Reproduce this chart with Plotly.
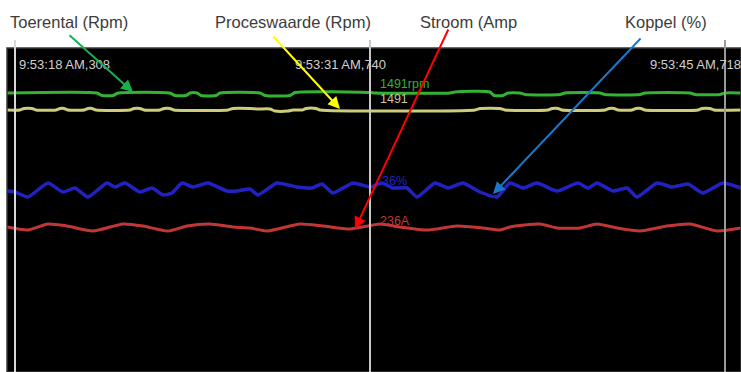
import plotly.graph_objects as go

# ---------------- data (sample index, 1 sample per display column) ----------------
green_x = [0, 90, 95, 106, 111, 163, 168, 179, 183, 190, 194, 209, 213, 253, 258, 283, 288, 363, 368,
           443, 448, 483, 487, 496, 501, 513, 518, 553, 558, 593, 598, 633, 638, 683, 688, 713, 718, 734]
green_rpm = [1491, 1491, 1488.5, 1488.5, 1491, 1491, 1488.5, 1488.5, 1491, 1491, 1488.5, 1488.5, 1491,
             1491, 1488.5, 1488.5, 1491.5, 1491.5, 1491, 1491, 1492, 1492, 1488.5, 1488.5, 1491, 1491,
             1489.5, 1489.5, 1491, 1491, 1489.5, 1489.5, 1491, 1491, 1489.5, 1489.5, 1491, 1491]

yellow_x = [0, 13, 17, 25, 29, 49, 53, 57, 61, 77, 81, 85, 89, 123, 127, 133, 137, 153, 157, 163, 167,
            221, 226, 243, 251, 263, 268, 281, 286, 295, 299, 309, 313, 468, 473, 493, 498, 541, 545,
            551, 555, 598, 602, 607, 611, 625, 629, 634, 638, 691, 695, 703, 707, 734]
yellow_rpm = [1491, 1491, 1492.5, 1492.5, 1491, 1491, 1492.5, 1492.5, 1491, 1491, 1492.5, 1492.5, 1491,
              1491, 1492.5, 1492.5, 1491, 1491, 1492.5, 1492.5, 1491, 1491, 1492.5, 1492.5, 1492,
              1492, 1490, 1490, 1491, 1491, 1492.5, 1492.5, 1491, 1491, 1492.5, 1492.5, 1491, 1491,
              1492.5, 1492.5, 1491, 1491, 1492.5, 1492.5, 1491, 1491, 1492.5, 1492.5, 1491, 1491,
              1492.5, 1492.5, 1491, 1491]

blue_x = [0, 8, 21, 41, 56, 68, 81, 100, 108, 118, 133, 145, 156, 165, 175, 186, 201, 220, 230, 243,
          251, 270, 290, 305, 315, 326, 346, 363, 375, 386, 400, 410, 428, 441, 456, 473, 490, 503,
          516, 530, 550, 571, 581, 590, 606, 620, 630, 650, 665, 681, 696, 716, 734]
blue_pct = [35.75, 35.5, 34.25, 37.75, 35.5, 36.5, 34.25, 37.75, 36.75, 37.75, 35.5, 36.5, 34.75,
            35.25, 37.75, 36.75, 37.75, 35.75, 35.75, 36.25, 34.75, 37.75, 36.75, 36.5, 37.5, 35.25,
            37.75, 36.75, 37.75, 36.5, 36.5, 34.25, 37.75, 36.5, 37.75, 35.5, 34.25, 37.75, 36.5,
            37.75, 35.75, 37.75, 36.5, 37.75, 35.75, 36.5, 34.25, 37.75, 36.75, 37.5, 35.25, 37.75, 36.5]

red_x = [0, 21, 41, 60, 86, 116, 136, 161, 180, 203, 226, 243, 260, 293, 316, 343, 373, 393, 420,
         450, 476, 493, 503, 533, 550, 573, 590, 610, 633, 660, 683, 710, 734]
red_amp = [236, 234.5, 237.5, 236.5, 234, 237.5, 236.5, 234, 236.5, 237.5, 236, 235.5, 234, 237.5,
           236.5, 235, 237.5, 236, 234.5, 236.5, 235.5, 234.5, 236, 237.5, 235.5, 235.5, 237.5,
           235.5, 234, 236.5, 237.5, 234, 235.5]

cursor_x = [8, 363, 718]
cursor_labels = ["9:53:18 AM,308", "9:53:31 AM,740", "9:53:45 AM,718"]

readouts = ["1491rpm", "1491", "36%", "236A"]

callouts = ["Toerental (Rpm)", "Proceswaarde (Rpm)", "Stroom (Amp", "Koppel (%)"]

# ---------------- figure ----------------
W, H = 741, 372
TOP = 48  # black panel top (px)
LEFT = 7

fig = go.Figure()

col_green = "#33b233"
col_yellow = "#cccc7a"
col_blue = "#2222c4"
col_red = "#c23636"

fig.add_trace(go.Scatter(x=green_x, y=green_rpm, mode="lines", yaxis="y",
                         line=dict(color=col_green, width=3, shape="spline", smoothing=0.6)))
fig.add_trace(go.Scatter(x=yellow_x, y=yellow_rpm, mode="lines", yaxis="y2",
                         line=dict(color=col_yellow, width=3, shape="spline", smoothing=0.6)))
fig.add_trace(go.Scatter(x=blue_x, y=blue_pct, mode="lines", yaxis="y3",
                         line=dict(color=col_blue, width=3.5, shape="spline", smoothing=0.5)))
fig.add_trace(go.Scatter(x=red_x, y=red_amp, mode="lines", yaxis="y4",
                         line=dict(color=col_red, width=3, shape="spline", smoothing=0.6)))

dom_y = [0, (H - TOP) / H]
hidden = dict(visible=False, fixedrange=True)
fig.update_layout(
    width=W, height=H,
    margin=dict(l=0, r=0, t=0, b=0),
    paper_bgcolor="white", plot_bgcolor="black",
    showlegend=False,
    xaxis=dict(domain=[LEFT / W, 1], range=[0, W - LEFT], visible=False),
    yaxis=dict(domain=dom_y, range=[1212, 1536], **hidden),
    yaxis2=dict(domain=dom_y, range=[1229, 1553], overlaying="y", **hidden),
    yaxis3=dict(domain=dom_y, range=[-9.5, 71.5], overlaying="y", **hidden),
    yaxis4=dict(domain=dom_y, range=[163.5, 325.5], overlaying="y", **hidden),
)

# panel frame
fig.add_shape(type="rect", xref="paper", yref="paper", x0=LEFT / W, x1=1, y0=0, y1=dom_y[1],
              line=dict(color="#3a3a3a", width=1.5), layer="above")

# cursors
cur_cols = ["#d8d8d8", "#c8c8c8", "#9a9a9a"]
for cx, cc in zip(cursor_x, cur_cols):
    fig.add_shape(type="line", xref="x", yref="paper", x0=cx, x1=cx, y0=0, y1=1 - 40 / H,
                  line=dict(color=cc, width=2), layer="above")

ts_font = dict(family="Liberation Sans", size=13, color="#d0d0d0")
ts_pos = [17, 293, 648]
for px, lab in zip(ts_pos, cursor_labels):
    fig.add_annotation(text=lab, xref="paper", yref="paper", x=px / W, y=1 - 64 / H,
                       xanchor="left", yanchor="middle", showarrow=False, font=ts_font)

# readouts at middle cursor
ro_pos = [(378, 84, col_green), (378, 99, "#c8c8a8"), (380, 181, col_blue), (378, 221, col_red)]
for (px, py, c), lab in zip(ro_pos, readouts):
    fig.add_annotation(text=lab, xref="paper", yref="paper", x=px / W, y=1 - py / H,
                       xanchor="left", yanchor="middle", showarrow=False,
                       font=dict(family="Liberation Sans", size=12.5, color=c))

# callout texts
co_pos = [8, 213, 418, 623]
for px, lab in zip(co_pos, callouts):
    fig.add_annotation(text=lab, xref="paper", yref="paper", x=px / W, y=1 - 22 / H,
                       xanchor="left", yanchor="middle", showarrow=False,
                       font=dict(family="Liberation Sans", size=16.5, color="#3c3c3c"))

# callout arrows (head, tail) in px
arrows = [((133, 92), (68, 34), "#16b04e"),
          ((340, 109), (272, 35), "#ffff00"),
          ((355, 229), (449, 28), "#ff0000"),
          ((493, 194), (642, 37), "#1a78c8")]
for (hx, hy), (tx, ty), c in arrows:
    fig.add_annotation(text="", xref="paper", yref="paper", x=hx / W, y=1 - hy / H,
                       axref="pixel", ayref="pixel", ax=tx - hx, ay=ty - hy,
                       showarrow=True, arrowhead=2, arrowsize=1.2, arrowwidth=2, arrowcolor=c)

fig.write_html("out.html", config={"displayModeBar": False},
               post_script="document.body.style.margin='0';")
